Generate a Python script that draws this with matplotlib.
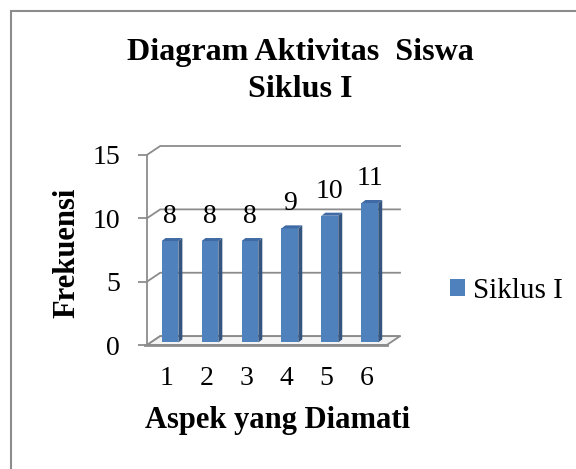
#!/usr/bin/env python3
# -*- coding: utf-8 -*-
"""Diagram Aktivitas Siswa Siklus I - bar chart gaya 3D ala Excel"""

import matplotlib
matplotlib.use('Agg')
import matplotlib.pyplot as plt
from matplotlib.patches import Rectangle, Patch

# data
aspek = [1, 2, 3, 4, 5, 6]
frekuensi = [8, 8, 8, 9, 10, 11]
y_ticks = [0, 5, 10, 15]
seri = 'Siklus I'

plt.rcParams['font.family'] = ['Liberation Serif', 'DejaVu Serif']

GRAY = '#8c8c8c'
FRONT = '#4f81bd'
SIDE = '#34557f'
TOP = '#3f6aa3'

# kedalaman "3D"
dx, dy = 0.33, 0.7      # dinding belakang
bdx, bdy = 0.1, 0.24    # kedalaman batang
base = 0.2              # batang sedikit di belakang bidang depan
w = 0.42
x0, x1 = 0.425, 6.425


def main():
    fig = plt.figure(figsize=(5.76, 4.69), dpi=100)
    ax = fig.add_axes([147 / 576, 124 / 469, 253 / 576, 199 / 469])
    ax.set_xlim(x0, x1 + dx)
    ax.set_ylim(0, 15 + dy)

    # dinding belakang + garis samping
    for t in y_ticks:
        ax.plot([x0, x0 + dx, x1 + dx], [t, t + dy, t + dy], color=GRAY,
                lw=1.3, zorder=1, clip_on=False)

    # lantai
    ax.fill([x0, x1, x1 + dx, x0 + dx], [0, 0, dy, dy], facecolor='#f4f4f4',
            edgecolor=GRAY, lw=1.3, zorder=1, clip_on=False)
    ax.plot([x0 - 0.05, x1], [0, 0], color=GRAY, lw=2, zorder=1, clip_on=False)

    # batang
    ax.bar(aspek, frekuensi, width=w, bottom=base, color=FRONT, zorder=3)
    for x, v in zip(aspek, frekuensi):
        r = x + w / 2
        l = x - w / 2
        top = v + base
        ax.fill([r, r + bdx, r + bdx, r], [base, base + bdy, top + bdy, top],
                color=SIDE, zorder=3, lw=0)
        ax.fill([l, r, r + bdx, l + bdx], [top, top, top + bdy, top + bdy],
                color=TOP, zorder=3, lw=0)
        ax.annotate(str(v), (x, top), xytext=(0, 13), textcoords='offset points',
                    ha='center', va='baseline', fontsize=20, zorder=4)

    # sumbu
    for s in ['top', 'right', 'bottom']:
        ax.spines[s].set_visible(False)
    ax.spines['left'].set_color(GRAY)
    ax.spines['left'].set_linewidth(1.3)
    ax.spines['left'].set_bounds(0, 15)
    ax.set_yticks(y_ticks)
    ax.tick_params(axis='y', colors=GRAY, labelcolor='black', length=6.5,
                   width=1.3, pad=13, labelsize=20)
    # label kategori sedikit bergeser ke kiri (perspektif)
    ax.set_xticks([a - 0.09 for a in aspek], [str(a) for a in aspek])
    ax.tick_params(axis='x', length=0, pad=15, labelsize=20)
    ax.set_facecolor('none')

    ax.set_ylabel('Frekuensi', fontsize=22, fontweight='bold', va='baseline')
    ax.yaxis.set_label_coords(-0.285, 0.462)
    ax.set_xlabel('Aspek yang Diamati', fontsize=22, fontweight='bold',
                  va='baseline')
    ax.xaxis.set_label_coords(0.518, -0.417)

    # judul
    fig.text(300 / 576, 1 - 60 / 469, 'Diagram Aktivitas  Siswa', ha='center',
             va='baseline', fontsize=23, fontweight='bold')
    fig.text(300 / 576, 1 - 97 / 469, 'Siklus I', ha='center',
             va='baseline', fontsize=23, fontweight='bold')

    # legenda
    fig.legend(handles=[Patch(facecolor=FRONT, label=seri)], loc='center left',
               bbox_to_anchor=(450 / 576, 1 - 291 / 469), frameon=False,
               borderpad=0, borderaxespad=0, handlelength=0.5, handleheight=0.5,
               handletextpad=0.3, fontsize=21)

    # bingkai
    fig.add_artist(Rectangle((11 / 576, -0.1), 2, 1.1 - 11 / 469,
                             transform=fig.transFigure, fill=False,
                             edgecolor=GRAY, lw=1.5))

    fig.savefig('out.png', dpi=100, facecolor='white')
    plt.close(fig)


if __name__ == '__main__':
    main()
